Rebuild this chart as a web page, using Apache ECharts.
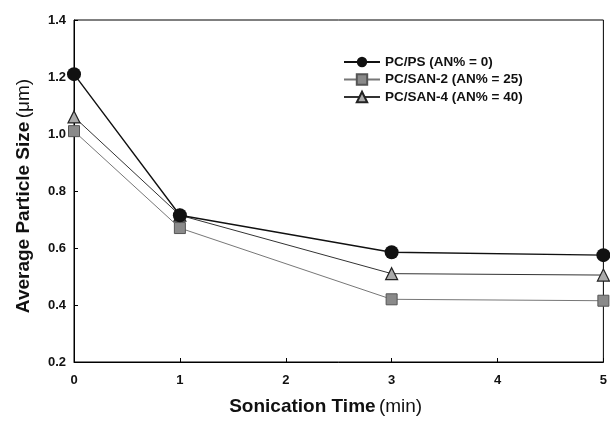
<!DOCTYPE html>
<html><head><meta charset="utf-8">
<script src="https://cdn.jsdelivr.net/npm/echarts@6/dist/echarts.min.js"></script>
<style>html,body{margin:0;padding:0;background:#fff}#c{width:610px;height:421px}</style>
</head><body><div id="c"></div>
<script>
const times = [0, 1, 3, 5];
const pcps = [1.21, 0.715, 0.585, 0.575];
const san2 = [1.01, 0.67, 0.42, 0.415];
const san4 = [1.06, 0.715, 0.51, 0.505];
const names = ['PC/PS (AN% = 0)', 'PC/SAN-2 (AN% = 25)', 'PC/SAN-4 (AN% = 40)'];
const pts = arr => times.map((t, i) => [t, arr[i]]);
const F = 'Liberation Sans, Arial, sans-serif';
const chart = echarts.init(document.getElementById('c'), null, {renderer: 'canvas'});
chart.setOption({
  animation: false,
  backgroundColor: '#fff',
  grid: {left: 74, right: 4, top: 20, bottom: 56, show: true, borderColor: '#000', borderWidth: 1},
  legend: {
    orient: 'vertical', left: 338, top: 50, itemGap: 3.5, itemWidth: 36, itemHeight: 13,
    textStyle: {fontFamily: F, fontWeight: 'bold', fontSize: 13.5, color: '#111'},
    data: names
  },
  xAxis: {
    type: 'value', min: 0, max: 5, interval: 1,
    axisLine: {lineStyle: {color: '#000'}},
    axisTick: {inside: true, length: 4, lineStyle: {color: '#000'}},
    splitLine: {show: false},
    axisLabel: {fontFamily: F, fontWeight: 'bold', fontSize: 13, color: '#111', margin: 12},
    name: '{b|Sonication Time} {n|(min)}', nameLocation: 'middle', nameGap: 35,
    nameTextStyle: {padding: [0, 26, 0, 0], rich: {
      b: {fontFamily: F, fontWeight: 'bold', fontSize: 19, color: '#111'},
      n: {fontFamily: F, fontWeight: 'normal', fontSize: 19, color: '#111'}
    }}
  },
  yAxis: {
    type: 'value', min: 0.2, max: 1.4, interval: 0.2,
    axisLine: {lineStyle: {color: '#000'}},
    axisTick: {inside: true, length: 4, lineStyle: {color: '#000'}},
    splitLine: {show: false},
    axisLabel: {fontFamily: F, fontWeight: 'bold', fontSize: 13, color: '#111', margin: 8,
      formatter: v => v.toFixed(1)},
    name: '{b|Average Particle Size} {n|(μm)}', nameLocation: 'middle', nameGap: 41,
    nameTextStyle: {padding: [0, 10, 0, 0], rich: {
      b: {fontFamily: F, fontWeight: 'bold', fontSize: 19, color: '#111'},
      n: {fontFamily: F, fontWeight: 'normal', fontSize: 19, color: '#111'}
    }}
  },
  series: [
    {name: names[0], type: 'line', data: pts(pcps), symbol: 'circle', symbolSize: 14,
     lineStyle: {color: '#111', width: 1.4}, itemStyle: {color: '#111'}, z: 4},
    {name: names[1], type: 'line', data: pts(san2), symbol: 'rect', symbolSize: 11,
     lineStyle: {color: '#777', width: 1}, itemStyle: {color: '#8a8a8a', borderColor: '#555', borderWidth: 1}, z: 2},
    {name: names[2], type: 'line', data: pts(san4), symbol: 'triangle', symbolSize: 12,
     lineStyle: {color: '#333', width: 1}, itemStyle: {color: '#aaa', borderColor: '#222', borderWidth: 1.2}, z: 3}
  ]
});
</script></body></html>
